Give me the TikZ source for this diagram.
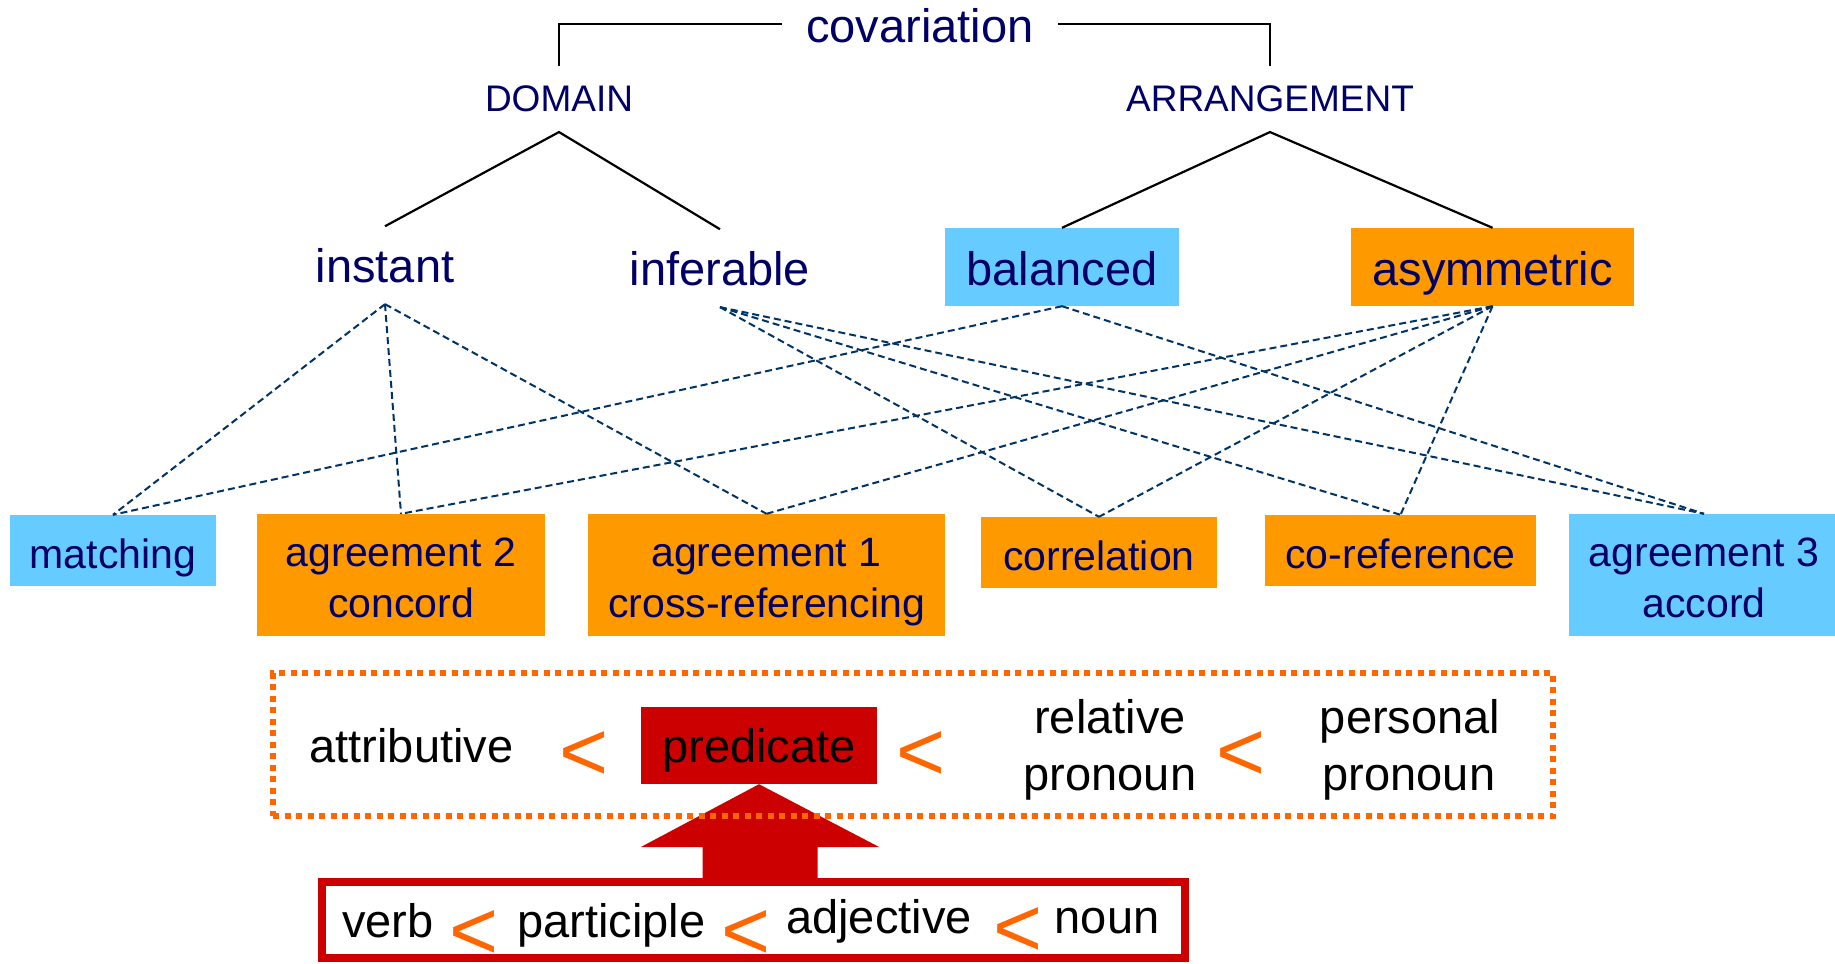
\documentclass[tikz,border=0pt]{standalone}
\usepackage{fontspec}
\setmainfont{Liberation Sans}
\definecolor{txtnavy}{RGB}{0,0,102}
\definecolor{linkc}{RGB}{0,51,102}
\definecolor{skyb}{RGB}{102,204,255}
\definecolor{boxo}{RGB}{255,153,0}
\definecolor{redc}{RGB}{204,0,0}
\definecolor{ltc}{RGB}{255,102,0}
\newcommand{\szTop}{\fontsize{47}{56}\selectfont}
\newcommand{\szCat}{\fontsize{37}{44}\selectfont}
\newcommand{\szBox}{\fontsize{41}{50}\selectfont}
\newcommand{\szLess}{\fontsize{84}{90}\selectfont}
\begin{document}
\begin{tikzpicture}[x=1pt,y=-1pt,
  head/.style={text=txtnavy, font=\szTop, inner xsep=24pt, inner ysep=0pt, text height=38pt, text depth=0pt},
  cat/.style={text=txtnavy, font=\szCat, inner xsep=4pt, inner ysep=19.5pt, anchor=base},
  val/.style={text=txtnavy, font=\szTop, inner xsep=4pt, inner ysep=21.5pt, anchor=base},
  valbox/.style={text=txtnavy, font=\szTop, inner sep=0pt, text height=36pt, text depth=0pt},
  ubox/.style={inner sep=0pt},
  utext/.style={text=txtnavy, font=\szBox, inner sep=0pt, anchor=base},
  tree/.style={draw=black, line width=2.2pt},
  link/.style={draw=linkc, line width=2pt, dash pattern=on 7pt off 4pt},
  word/.style={text=black, font=\szTop, inner sep=0pt, anchor=base},
  less/.style={text=ltc, font=\szLess, inner sep=0pt},
]
% canvas
\fill[white] (0,0) rectangle (1835,963);
\useasboundingbox (0,0) rectangle (1835,963);

% ---- upper hierarchy ----
\node[head] (cov) at (920,24) {covariation};
\node[cat] (dom) at (559,112) {DOMAIN};
\node[cat] (arr) at (1270,112) {ARRANGEMENT};
\draw[line width=2.5pt] (cov.west) -| (dom.north);
\draw[line width=2.5pt] (cov.east) -| (arr.north);

\node[val] (inst) at (385,282) {instant};
\node[val] (infer) at (720,285) {inferable};
\node[valbox, fill=skyb, minimum width=234pt, minimum height=78pt] (bal) at (1062,267) {balanced};
\node[valbox, fill=boxo, minimum width=283pt, minimum height=78pt] (asym) at (1492.5,267) {asymmetric};

\draw[tree] (inst.north) -- (dom.south) -- (infer.north);
\draw[tree] (bal.north) -- (arr.south) -- (asym.north);

% ---- covariation types ----
\node[ubox, fill=skyb, minimum width=206pt, minimum height=71pt] (match) at (113,550.5) {};
\node[utext] (matchT) at (113,568) {matching};

\node[ubox, fill=boxo, minimum width=288pt, minimum height=122pt] (agr2) at (401,575) {};
\node[utext] (agr2a) at (401,566) {agreement 2};
\node[utext] (agr2b) at (401,617) {concord};

\node[ubox, fill=boxo, minimum width=357pt, minimum height=122pt] (agr1) at (766.5,575) {};
\node[utext] (agr1a) at (766.5,566) {agreement 1};
\node[utext] (agr1b) at (766.5,617) {cross-referencing};

\node[ubox, fill=boxo, minimum width=236pt, minimum height=71pt] (corr) at (1099,552.5) {};
\node[utext] (corrT) at (1099,570) {correlation};

\node[ubox, fill=boxo, minimum width=271pt, minimum height=71pt] (coref) at (1400.5,550.5) {};
\node[utext] (corefT) at (1400.5,568) {co-reference};

\node[ubox, fill=skyb, minimum width=270pt, minimum height=122pt] (agr3) at (1704,575) {};
\node[utext] (agr3a) at (1704,566) {agreement 3};
\node[utext] (agr3b) at (1704,617) {accord};

% ---- dashed links ----
\draw[link] (inst.south) -- (match.north);
\draw[link] (inst.south) -- (agr2.north);
\draw[link] (inst.south) -- (agr1.north);
\draw[link] (infer.south) -- (corr.north);
\draw[link] (infer.south) -- (coref.north);
\draw[link] (infer.south) -- (agr3.north);
\draw[link] (bal.south) -- (match.north);
\draw[link] (bal.south) -- (agr3.north);
\draw[link] (asym.south) -- (agr2.north);
\draw[link] (asym.south) -- (agr1.north);
\draw[link] (asym.south) -- (corr.north);
\draw[link] (asym.south) -- (coref.north);

% ---- hierarchy of targets ----
\node[fill=redc, minimum width=236pt, minimum height=77pt, inner sep=0pt, font=\szTop, text height=33pt, text depth=0pt] (pred) at (759,745.5) {predicate};
\fill[redc] (pred.south) -- ++(120.5,63) -- ++(-62,0) -- ++(0,36) -- ++(-115,0) -- ++(0,-36) -- ++(-62,0) -- cycle;
\node[draw=ltc, line width=6pt, dash pattern=on 6pt off 5.5pt, minimum width=1280pt, minimum height=143pt, inner sep=0pt] (hier) at (913,744.5) {};

\node[word] (attr) at (411.5,762) {attributive};
\node[less] (lt1) at (584,756) {<};
\node[less] (lt2) at (921,756) {<};
\node[word] (rel1) at (1110,733) {relative};
\node[word] (rel2) at (1110,790) {pronoun};
\node[less] (lt3) at (1241.5,756.5) {<};
\node[word] (pers1) at (1410,733) {personal};
\node[word] (pers2) at (1409,790) {pronoun};

% ---- hierarchy of controllers ----
\node[draw=redc, line width=8pt, minimum width=863pt, minimum height=76pt, inner sep=0pt] (pos) at (753.5,920) {};
\node[word] (verb) at (388,937) {verb};
\node[less] (lt4) at (474,935) {<};
\node[word] (part) at (611.5,937) {participle};
\node[less] (lt5) at (746,935.5) {<};
\node[word] (adj) at (879,933) {adjective};
\node[less] (lt6) at (1018,932.5) {<};
\node[word] (noun) at (1107,933) {noun};
\end{tikzpicture}
\end{document}
